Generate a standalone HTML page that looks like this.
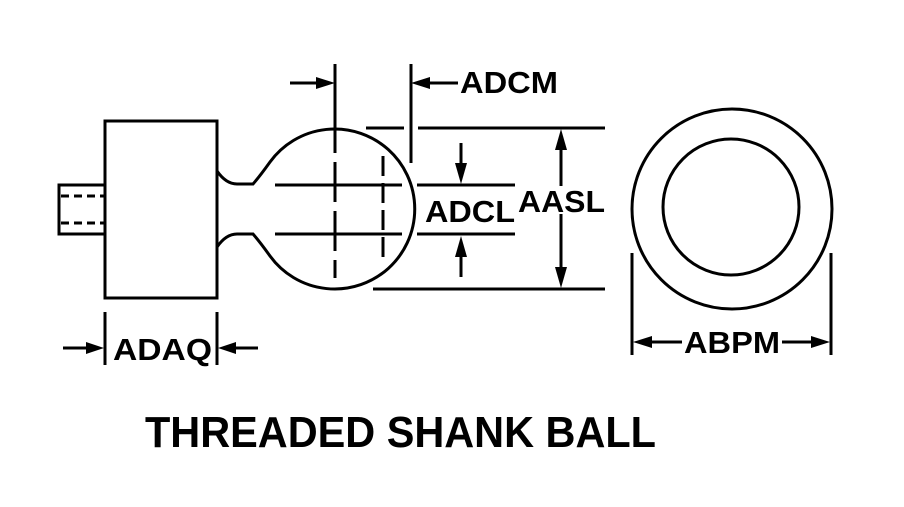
<!DOCTYPE html>
<html><head><style>html,body{margin:0;padding:0;background:#fff}svg{display:block}text{font-family:"Liberation Sans",sans-serif;font-weight:bold;fill:#000}</style></head>
<body>
<svg width="904" height="507" viewBox="0 0 904 507" xmlns="http://www.w3.org/2000/svg">
<g fill="none" stroke="#000" stroke-width="3">
<!-- shank -->
<rect x="59" y="185" width="46" height="49"/>
<line x1="61" y1="196" x2="104" y2="196" stroke-dasharray="8,5"/>
<line x1="61" y1="223" x2="104" y2="223" stroke-dasharray="8,5"/>
<!-- body -->
<rect x="105" y="121" width="112" height="177"/>
<!-- neck + ball -->
<path d="M217,171 Q226,184 237,184 L253,184 Q260,176 270,162 A80,80 0 1 1 270,256 Q260,242 253,234 L237,234 Q226,234 217,247"/>
<!-- centerlines -->
<line x1="275" y1="185" x2="402" y2="185"/>
<line x1="275" y1="234" x2="402" y2="234"/>
<line x1="417" y1="185" x2="515" y2="185"/>
<line x1="417" y1="234" x2="515" y2="234"/>
<line x1="335" y1="64" x2="335" y2="278" stroke-dasharray="40,9"/>
<line x1="335" y1="64" x2="335" y2="122"/>
<line x1="383" y1="156" x2="383" y2="264" stroke-dasharray="20,7"/>
<line x1="411" y1="64" x2="411" y2="163"/>
<line x1="366" y1="128" x2="404" y2="128"/>
<line x1="418" y1="128" x2="605" y2="128"/>
<line x1="373" y1="289" x2="605" y2="289"/>
<!-- ADCM arrows -->
<line x1="290" y1="83" x2="320" y2="83"/>
<line x1="425" y1="83" x2="458" y2="83"/>
<!-- ADCL arrows -->
<line x1="461" y1="143" x2="461" y2="165"/>
<line x1="461" y1="255" x2="461" y2="277"/>
<!-- AASL -->
<line x1="561" y1="145" x2="561" y2="186"/>
<line x1="561" y1="214" x2="561" y2="272"/>
<!-- right view -->
<circle cx="732" cy="209" r="100"/>
<circle cx="731" cy="207" r="68"/>
<line x1="632" y1="253" x2="632" y2="355"/>
<line x1="831" y1="253" x2="831" y2="355"/>
<line x1="648" y1="342" x2="682" y2="342"/>
<line x1="782" y1="342" x2="815" y2="342"/>
<!-- ADAQ -->
<line x1="105" y1="312" x2="105" y2="365"/>
<line x1="217" y1="312" x2="217" y2="365"/>
<line x1="63" y1="348" x2="90" y2="348"/>
<line x1="232" y1="348" x2="258" y2="348"/>
</g>
<g fill="#000">
<polygon points="335,83 316,77 316,89"/>
<polygon points="411,83 430,77 430,89"/>
<polygon points="461,184 455,163 467,163"/>
<polygon points="461,236 455,257 467,257"/>
<polygon points="561,129 555,150 567,150"/>
<polygon points="561,288 555,267 567,267"/>
<polygon points="633,342 652,336 652,348"/>
<polygon points="830,342 811,336 811,348"/>
<polygon points="104,348 86,342 86,354"/>
<polygon points="218,348 236,342 236,354"/>
</g>
<text x="460" y="93" font-size="31" textLength="98" lengthAdjust="spacingAndGlyphs">ADCM</text>
<text x="425" y="222" font-size="31" textLength="90" lengthAdjust="spacingAndGlyphs">ADCL</text>
<text x="518" y="212" font-size="31" textLength="87" lengthAdjust="spacingAndGlyphs">AASL</text>
<text x="684" y="353" font-size="31" textLength="96" lengthAdjust="spacingAndGlyphs">ABPM</text>
<text x="113" y="360" font-size="31" textLength="99" lengthAdjust="spacingAndGlyphs">ADAQ</text>
<text x="145" y="447" font-size="44" textLength="511" lengthAdjust="spacingAndGlyphs">THREADED SHANK BALL</text>
</svg>
</body></html>
